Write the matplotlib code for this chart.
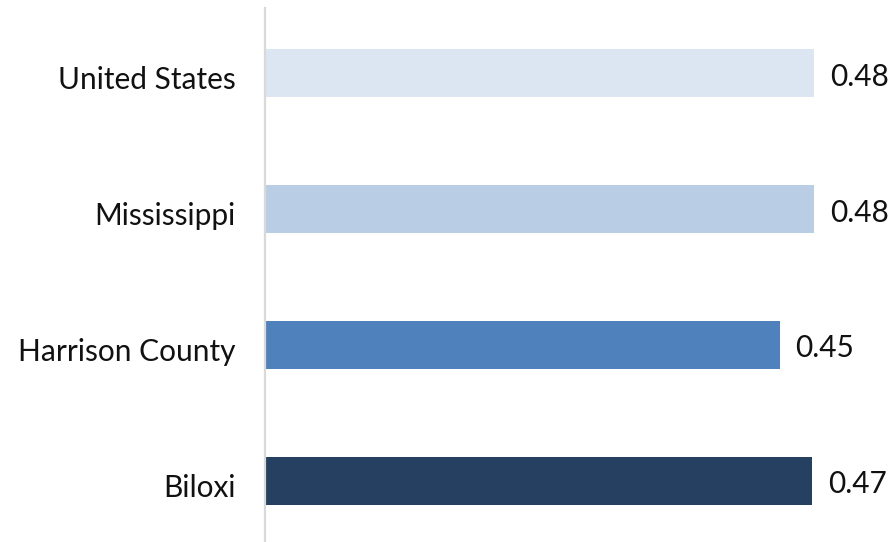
import matplotlib.pyplot as plt
import matplotlib.transforms as mtransforms

# data
regions = ["United States", "Mississippi", "Harrison County", "Biloxi"]
values = [0.480, 0.480, 0.450, 0.478]
value_labels = ["0.48", "0.48", "0.45", "0.47"]
colors = ["#DCE6F2", "#B9CDE5", "#4F81BD", "#254061"]

plt.rcParams['font.family'] = ['Lato', 'DejaVu Sans']

fig = plt.figure(figsize=(8.94, 5.42), dpi=100)
ax = fig.add_axes([265 / 894, 0, 629 / 894, 534 / 542])

ypos = list(range(len(regions)))
ax.barh(ypos, values, height=0.35, color=colors)

for y, v, lab in zip(ypos, values, value_labels):
    ax.annotate(lab, (v, y), xytext=(11.5, -2.5), textcoords="offset points",
                va="center", ha="left", fontsize=21.5, color="#111111")

ax.set_xlim(0, 0.55)
ax.set_ylim(3.45, -0.48)
ax.set_yticks(ypos)
ax.set_yticklabels(regions, fontsize=21.5, color="#111111")
ax.tick_params(axis="y", length=0, pad=21)
ax.set_xticks([])

# nudge category labels down a little
shift = mtransforms.ScaledTranslation(0, -3 / 72, fig.dpi_scale_trans)
for t in ax.get_yticklabels():
    t.set_transform(t.get_transform() + shift)

for s in ["top", "right", "bottom"]:
    ax.spines[s].set_visible(False)
ax.spines["left"].set_color("#D9D9D9")
ax.spines["left"].set_linewidth(1.6)

fig.savefig("out.png", dpi=100)
